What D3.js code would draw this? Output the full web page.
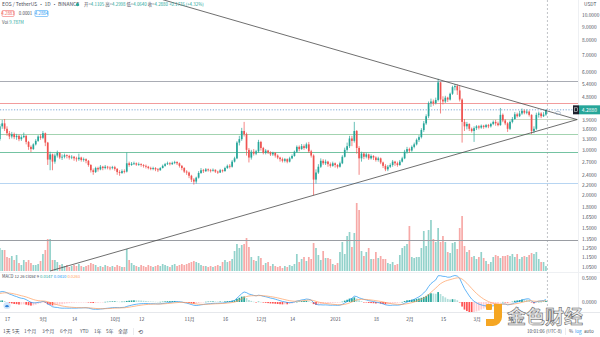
<!DOCTYPE html>
<html><head><meta charset="utf-8">
<script src="https://cdn.jsdelivr.net/npm/d3@7"></script>
<style>body{margin:0;background:#fff}svg{display:block}text{font-family:"Noto Sans CJK SC","Noto Sans",sans-serif}</style>
</head><body><svg id="c" width="600" height="337"></svg>
<script>
// ---- DATA (EOS / USDT daily) ----
const firstDay = "2020-08-14", lastDay = "2021-03-30";
const opens = [
3.30,3.70,3.80,3.62,3.48,3.38,3.45,3.36,3.40,3.30,
3.36,3.40,3.22,3.08,3.02,3.15,3.25,3.38,3.34,3.48,
3.20,2.75,2.88,2.70,2.85,2.92,2.80,2.82,2.86,2.84,
2.80,2.82,2.78,2.76,2.80,2.74,2.76,2.72,2.62,2.50,
2.46,2.55,2.52,2.58,2.55,2.58,2.56,2.55,2.57,2.53,
2.46,2.44,2.48,2.47,2.66,2.62,2.65,2.66,2.63,2.64,
2.62,2.60,2.58,2.55,2.53,2.55,2.52,2.50,2.55,2.60,
2.64,2.66,2.64,2.67,2.69,2.66,2.60,2.55,2.47,2.45,
2.38,2.30,2.26,2.34,2.44,2.50,2.48,2.52,2.50,2.49,
2.51,2.47,2.45,2.50,2.48,2.55,2.60,2.58,2.70,2.78,
3.20,3.30,3.55,3.45,3.00,2.80,2.95,2.90,2.96,3.22,
3.05,2.92,2.98,2.93,2.88,2.92,2.85,2.80,2.76,2.72,
2.76,2.70,2.78,2.84,2.95,3.08,3.02,3.10,3.05,3.15,
2.96,2.85,2.30,2.45,2.58,2.72,2.66,2.70,2.64,2.60,
2.66,2.62,2.58,2.66,2.82,3.00,3.10,3.32,3.25,3.55,
3.05,2.78,2.90,2.82,2.88,2.78,2.84,2.80,2.74,2.78,
2.68,2.60,2.52,2.58,2.62,2.70,2.66,2.62,2.70,2.78,
2.95,3.02,2.98,3.08,3.15,3.28,3.36,3.58,3.80,4.05,
4.55,4.62,4.55,4.68,5.48,4.70,4.62,4.78,4.70,4.95,
5.25,5.30,5.10,4.70,3.85,3.70,3.78,3.62,3.55,3.64,
3.70,3.66,3.72,3.68,3.74,3.70,3.78,3.85,3.80,3.74,
4.10,3.90,3.80,3.62,3.85,3.95,4.12,4.05,4.15,4.25,
4.18,4.22,4.10,3.55,3.62,4.10,4.15,4.05,4.1105];
const highs = [
3.78,3.92,3.95,3.70,3.55,3.52,3.50,3.46,3.44,3.42,
3.50,3.42,3.25,3.12,3.18,3.30,3.42,3.45,3.55,3.50,
3.22,2.95,2.90,2.90,2.98,2.94,2.88,2.90,2.88,2.87,
2.86,2.84,2.82,2.90,2.82,2.80,2.78,2.74,2.64,2.54,
2.58,2.58,2.62,2.60,2.62,2.60,2.59,2.60,2.60,2.55,
2.50,2.52,2.52,2.93,2.70,2.69,2.70,2.68,2.68,2.66,
2.64,2.63,2.60,2.58,2.58,2.57,2.55,2.57,2.63,2.67,
2.70,2.69,2.70,2.72,2.71,2.68,2.62,2.57,2.50,2.47,
2.40,2.33,2.36,2.48,2.55,2.53,2.55,2.54,2.53,2.54,
2.52,2.49,2.53,2.52,2.58,2.63,2.64,2.74,2.82,3.24,
3.40,3.65,3.85,3.50,3.05,3.00,3.02,3.00,3.28,3.25,
3.08,3.02,3.00,2.96,2.95,2.94,2.88,2.82,2.80,2.79,
2.78,2.82,2.88,2.98,3.12,3.12,3.16,3.15,3.20,3.22,
3.00,2.88,2.52,2.64,2.78,2.76,2.75,2.72,2.68,2.70,
2.68,2.64,2.70,2.86,3.06,3.20,3.40,3.40,3.85,3.58,
3.10,2.95,2.94,2.92,2.90,2.88,2.86,2.83,2.82,2.80,
2.70,2.64,2.62,2.66,2.74,2.72,2.70,2.74,2.82,3.00,
3.08,3.06,3.12,3.20,3.32,3.42,3.64,3.88,4.12,4.62,
4.74,4.70,4.78,5.66,5.50,4.84,4.86,4.82,5.00,5.32,
5.40,5.38,5.30,4.75,3.95,3.85,3.80,3.66,3.70,3.74,
3.74,3.76,3.75,3.78,3.78,3.82,3.90,3.92,3.86,4.36,
4.15,3.95,3.84,3.90,4.02,4.20,4.18,4.25,4.34,4.30,
4.30,4.26,4.12,3.70,4.18,4.22,4.20,4.20,4.2998];
const lows = [
3.25,3.62,3.55,3.40,3.30,3.32,3.30,3.28,3.24,3.25,
3.33,3.15,3.00,2.94,3.00,3.12,3.22,3.28,3.30,3.10,
2.62,2.50,2.50,2.65,2.80,2.76,2.74,2.78,2.78,2.75,
2.76,2.72,2.70,2.72,2.70,2.70,2.66,2.58,2.45,2.40,
2.44,2.47,2.50,2.50,2.52,2.52,2.50,2.52,2.49,2.40,
2.38,2.42,2.43,2.45,2.58,2.60,2.62,2.60,2.60,2.58,
2.56,2.54,2.52,2.50,2.50,2.48,2.46,2.49,2.54,2.58,
2.62,2.61,2.62,2.64,2.62,2.56,2.50,2.44,2.40,2.33,
2.25,2.20,2.22,2.32,2.42,2.44,2.46,2.47,2.45,2.47,
2.44,2.42,2.44,2.45,2.47,2.53,2.54,2.56,2.68,2.76,
3.12,3.25,3.38,2.85,2.68,2.75,2.85,2.86,2.92,2.98,
2.88,2.88,2.89,2.84,2.84,2.80,2.76,2.70,2.68,2.68,
2.66,2.68,2.76,2.82,2.92,2.96,3.00,3.00,3.02,2.92,
2.80,2.00,2.22,2.42,2.55,2.62,2.62,2.58,2.56,2.58,
2.56,2.54,2.56,2.64,2.80,2.95,3.05,3.10,3.20,2.90,
2.40,2.70,2.76,2.78,2.74,2.75,2.74,2.70,2.70,2.64,
2.55,2.48,2.48,2.55,2.58,2.60,2.58,2.60,2.68,2.76,
2.90,2.92,2.95,3.04,3.12,3.22,3.32,3.52,3.75,3.98,
4.40,4.45,4.50,4.62,4.15,4.50,4.56,4.60,4.66,4.90,
5.10,4.90,4.62,3.20,3.55,3.60,3.55,3.50,3.22,3.58,
3.60,3.62,3.62,3.64,3.64,3.66,3.74,3.72,3.70,3.72,
3.84,3.74,3.52,3.58,3.80,3.92,4.00,4.02,4.10,4.12,
4.12,4.04,3.45,3.48,3.58,4.00,3.98,4.02,4.064];
const closes = [
3.70,3.80,3.62,3.48,3.38,3.45,3.36,3.40,3.30,3.36,
3.40,3.22,3.08,3.02,3.15,3.25,3.38,3.34,3.48,3.20,
2.75,2.88,2.70,2.85,2.92,2.80,2.82,2.86,2.84,2.80,
2.82,2.78,2.76,2.80,2.74,2.76,2.72,2.62,2.50,2.46,
2.55,2.52,2.58,2.55,2.58,2.56,2.55,2.57,2.53,2.46,
2.44,2.48,2.47,2.66,2.62,2.65,2.66,2.63,2.64,2.62,
2.60,2.58,2.55,2.53,2.55,2.52,2.50,2.55,2.60,2.64,
2.66,2.64,2.67,2.69,2.66,2.60,2.55,2.47,2.45,2.38,
2.30,2.26,2.34,2.44,2.50,2.48,2.52,2.50,2.49,2.51,
2.47,2.45,2.50,2.48,2.55,2.60,2.58,2.70,2.78,3.20,
3.30,3.55,3.45,3.00,2.80,2.95,2.90,2.96,3.22,3.05,
2.92,2.98,2.93,2.88,2.92,2.85,2.80,2.76,2.72,2.76,
2.70,2.78,2.84,2.95,3.08,3.02,3.10,3.05,3.15,2.96,
2.85,2.30,2.45,2.58,2.72,2.66,2.70,2.64,2.60,2.66,
2.62,2.58,2.66,2.82,3.00,3.10,3.32,3.25,3.55,3.05,
2.78,2.90,2.82,2.88,2.78,2.84,2.80,2.74,2.78,2.68,
2.60,2.52,2.58,2.62,2.70,2.66,2.62,2.70,2.78,2.95,
3.02,2.98,3.08,3.15,3.28,3.36,3.58,3.80,4.05,4.55,
4.62,4.55,4.68,5.48,4.70,4.62,4.78,4.70,4.95,5.25,
5.30,5.10,4.70,3.85,3.70,3.78,3.62,3.55,3.64,3.70,
3.66,3.72,3.68,3.74,3.70,3.78,3.85,3.80,3.74,4.10,
3.90,3.80,3.62,3.85,3.95,4.12,4.05,4.15,4.25,4.18,
4.22,4.10,3.55,3.62,4.10,4.15,4.05,4.1105,4.288];
// volume, millions of EOS
const volumes = [
46,42,42,28,26,30,22,32,16,12,
22,18,22,16,12,12,14,20,34,42,
64,64,22,22,18,12,14,10,12,8,
10,12,10,14,10,8,10,12,16,14,
12,8,10,8,12,10,8,10,8,12,
10,8,8,44,22,16,12,10,8,12,
10,8,12,10,8,10,12,10,14,12,
10,8,12,14,10,12,14,12,14,16,
18,20,18,16,12,10,10,8,10,8,
10,12,10,18,22,18,20,24,40,54,
46,52,54,66,48,28,22,20,30,26,
12,16,18,10,14,10,8,10,6,10,
8,12,10,14,34,18,24,28,20,28,
24,56,46,32,22,40,26,26,24,14,
12,16,38,58,34,70,78,48,76,136,
122,40,30,38,46,24,24,38,26,30,
24,24,16,14,18,12,14,32,46,50,
54,90,28,26,28,28,46,80,50,82,
102,64,58,86,58,70,58,38,36,56,
58,44,86,110,50,38,42,28,30,24,
28,38,26,20,14,18,28,32,30,26,
30,30,32,30,34,28,34,24,28,30,
28,32,36,34,38,24,18,18,9.787];
// MACD(12,26,9) EMA states just before the first visible day
const macdSeed = {fast: 3.42, slow: 3.22, signal: 0.17};
// horizontal drawn levels (price) and trend lines
const levelPrices = [5.547, 4.558, 3.951, 3.456, 2.943, 2.231, 1.341];
const levelColors = ["#a9acb4", "#f29c9c", "#cdd6c2", "#a3d3b0", "#74c3a2", "#b7d5f2", "#9a9da3"];
const trendUpper = [["2020-10-21", 11.47], ["2021-04-12", 3.93]];
const trendLower = [["2020-09-04", 1.017], ["2021-04-12", 3.93]];
const lastPrice = 4.2880;
const priceTicks = [10, 9, 8, 7, 6, 5.4, 4.8, 3.9, 3.6, 3.3, 3.0, 2.7, 2.4, 2.2, 2.0, 1.8, 1.65, 1.5, 1.35, 1.25, 1.15, 1.05];
const macdTicks = [0.5, 0];
const timeTicks = ["2020-08-17","2020-09-01","2020-09-14","2020-10-01","2020-10-12","2020-11-01","2020-11-16","2020-12-01","2020-12-14","2021-01-01","2021-01-18","2021-02-01","2021-02-15","2021-03-01","2021-03-15"];
const timeLabels = ["17","9月","14","10月","12","11月","16","12月","14","2021","18","2月","15","3月","15"];

// ---- DRAW ----
const P = s => new Date(s + "T00:00:00Z");
const dates = d3.utcDay.range(P(firstDay), d3.utcDay.offset(P(lastDay), 1));
const N = dates.length;
const idx = d3.range(N);
const svg = d3.select("#c");
const plotR = 578;
const x = d3.scaleUtc().domain([P("2020-08-17"), P("2021-03-15")]).range([7, 510]);
const y = d3.scaleLog().domain([10, 1.05]).range([15, 267.4]);
const yVol = d3.scaleLinear().domain([0, 140]).range([271, 201]);
const yM = d3.scaleLinear().domain([0, 0.5]).range([302, 278]);
const UP = "#26a69a", DN = "#ef5350";

const defs = svg.append("defs");
defs.append("clipPath").attr("id", "cp").append("rect").attr("x", 0).attr("y", 0).attr("width", plotR).attr("height", 272);
defs.append("clipPath").attr("id", "cm").append("rect").attr("x", 0).attr("y", 273).attr("width", plotR).attr("height", 39);

// pane borders
svg.append("line").attr("x1", 0).attr("x2", 600).attr("y1", 272.5).attr("y2", 272.5).attr("stroke", "#eef0f3");
svg.append("line").attr("x1", 0).attr("x2", 600).attr("y1", 312.5).attr("y2", 312.5).attr("stroke", "#e6e8ec");
svg.append("line").attr("x1", plotR + 0.5).attr("x2", plotR + 0.5).attr("y1", 0).attr("y2", 312).attr("stroke", "#eef0f3");

const gP = svg.append("g").attr("clip-path", "url(#cp)");
// volume
const bw = 1.7;
gP.append("g").selectAll("rect").data(idx).join("rect")
  .attr("x", i => x(dates[i]) - bw / 2).attr("width", bw)
  .attr("y", i => yVol(volumes[i])).attr("height", i => yVol(0) - yVol(volumes[i]))
  .attr("fill", i => closes[i] >= opens[i] ? "#93d2cb" : "#f7a9a7");
// levels
gP.append("g").selectAll("line").data(levelPrices).join("line")
  .attr("x1", 0).attr("x2", plotR).attr("y1", d => Math.round(y(d)) + 0.5).attr("y2", d => Math.round(y(d)) + 0.5)
  .attr("stroke", (d, i) => levelColors[i]).attr("stroke-width", 1);
// last price dotted
gP.append("line").attr("x1", 0).attr("x2", plotR).attr("y1", y(lastPrice)).attr("y2", y(lastPrice))
  .attr("stroke", "#7fa9d6").attr("stroke-dasharray", "1.2,1.6").attr("stroke-width", 1);
// candles
const gc = gP.append("g");
gc.selectAll("line").data(idx).join("line")
  .attr("x1", i => x(dates[i])).attr("x2", i => x(dates[i]))
  .attr("y1", i => y(highs[i])).attr("y2", i => y(lows[i]))
  .attr("stroke", i => closes[i] >= opens[i] ? UP : DN).attr("stroke-width", 0.7);
gc.selectAll("rect").data(idx).join("rect")
  .attr("x", i => x(dates[i]) - bw / 2).attr("width", bw)
  .attr("y", i => y(Math.max(opens[i], closes[i])))
  .attr("height", i => Math.max(0.8, y(Math.min(opens[i], closes[i])) - y(Math.max(opens[i], closes[i]))))
  .attr("fill", i => closes[i] >= opens[i] ? UP : DN);
// trend lines
[trendUpper, trendLower].forEach(t => {
  gP.append("line").attr("x1", x(P(t[0][0]))).attr("y1", y(t[0][1])).attr("x2", x(P(t[1][0]))).attr("y2", y(t[1][1]))
    .attr("stroke", "#4a4a4a").attr("stroke-width", 0.8);
});
gP.append("ellipse").attr("cx", x(P("2021-04-04"))).attr("cy", y(4.17)).attr("rx", 2.6).attr("ry", 1.6)
  .attr("fill", "none").attr("stroke", "#8fa6c0").attr("stroke-width", 0.6);

// MACD
let e12 = macdSeed.fast, e26 = macdSeed.slow, sig = macdSeed.signal;
const macd = closes.map(c => { e12 += (2 / 13) * (c - e12); e26 += (2 / 27) * (c - e26); const m = e12 - e26; sig += 0.2 * (m - sig); return { m, s: sig, h: m - sig }; });
const gM = svg.append("g").attr("clip-path", "url(#cm)");
gM.selectAll("rect").data(idx).join("rect")
  .attr("x", i => x(dates[i]) - bw / 2).attr("width", bw)
  .attr("y", i => Math.min(yM(macd[i].h), yM(0))).attr("height", i => Math.max(0.5, Math.abs(yM(macd[i].h) - yM(0))))
  .attr("fill", i => { const h = macd[i].h, p = i ? macd[i - 1].h : h;
    return h >= 0 ? (h >= p ? "#26a69a" : "#b2dfdb") : (h <= p ? "#ff5252" : "#ffcdd2"); });
gM.append("path").datum(idx).attr("fill", "none").attr("stroke", "#2196f3").attr("stroke-width", 0.7)
  .attr("d", d3.line().x(i => x(dates[i])).y(i => yM(macd[i].m)));
gM.append("path").datum(idx).attr("fill", "none").attr("stroke", "#ff9e5e").attr("stroke-width", 0.7)
  .attr("d", d3.line().x(i => x(dates[i])).y(i => yM(macd[i].s)));

// vertical dashed line at the last bar
svg.append("line").attr("x1", x(dates[N - 1]) + 1.5).attr("x2", x(dates[N - 1]) + 1.5).attr("y1", 0).attr("y2", 312)
  .attr("stroke", "#9598a1").attr("stroke-width", 0.6).attr("stroke-dasharray", "2,2");

// watermark (drawn under the axis labels)
const wm = svg.append("g");
wm.append("rect").attr("x", 486).attr("y", 304).attr("width", 6).attr("height", 6).attr("rx", 1).attr("fill", "#f5a623");
wm.append("path").attr("d", "M494,304 h8 v13 a9,9 0 0 1 -9,9 h-7 v-7 h8 z").attr("fill", "#f5a623");
wm.append("text").attr("x", 507).attr("y", 324).attr("font-size", 19).attr("font-weight", "bold")
  .attr("fill", "#e4e4e4").attr("fill-opacity", 0.9).attr("stroke", "#555").attr("stroke-width", 0.5).text("金色财经");

// price axis
const ay = svg.append("g").attr("transform", `translate(582,0)`)
  .call(d3.axisRight(y).tickValues(priceTicks).tickFormat(d3.format(".4f")).tickSize(0).tickPadding(0));
ay.select(".domain").remove();
ay.selectAll("text").attr("font-size", 4.8).attr("fill", "#4a4e59").attr("font-family", "Noto Sans");
svg.append("text").attr("x", 584).attr("y", 5.5).attr("font-size", 4.8).attr("fill", "#4a4e59").text("USDT");
const am = svg.append("g").attr("transform", `translate(582,0)`)
  .call(d3.axisRight(yM).tickValues(macdTicks).tickFormat(d3.format(".4f")).tickSize(0).tickPadding(0));
am.select(".domain").remove();
am.selectAll("text").attr("font-size", 4.8).attr("fill", "#4a4e59");
// last price label
const yl = y(lastPrice);
svg.append("rect").attr("x", 573).attr("y", yl - 4.5).attr("width", 6).attr("height", 9).attr("fill", "#1e222d");
svg.append("rect").attr("x", 574.6).attr("y", yl - 2).attr("width", 2.8).attr("height", 3.6).attr("fill", "none").attr("stroke", "#fff").attr("stroke-width", 0.5);
svg.append("rect").attr("x", 579).attr("y", yl - 4.5).attr("width", 21).attr("height", 9).attr("fill", UP);
svg.append("text").attr("x", 589.5).attr("y", yl + 1.8).attr("text-anchor", "middle").attr("font-size", 5).attr("fill", "#fff").text(lastPrice.toFixed(4));

// time axis
const ax = svg.append("g").attr("transform", "translate(0,319)")
  .call(d3.axisBottom(x).tickValues(timeTicks.map(P)).tickFormat((d, i) => timeLabels[i]).tickSize(0).tickPadding(0));
ax.select(".domain").remove();
ax.selectAll("text").attr("y", 0).attr("dy", "0.35em").attr("font-size", 4.8).attr("fill", "#4a4e59");

// header legend
const hd = svg.append("text").attr("x", 2).attr("y", 6.3).attr("font-size", 5).attr("fill", "#4a4e59");
hd.append("tspan").text("EOS / TetherUS · 1D · BINANCE");
svg.append("circle").attr("cx", 77.5).attr("cy", 4.6).attr("r", 1.6).attr("fill", UP);
const ohlc = svg.append("text").attr("x", 84).attr("y", 6.3).attr("font-size", 4.4);
[["开=", "4.1105 "], ["高=", "4.2998 "], ["低=", "4.0640 "], ["收=", "4.2880 "], ["", "+0.1776 (+4.32%)"]].forEach(p => {
  ohlc.append("tspan").attr("fill", "#4a4e59").text(p[0]);
  ohlc.append("tspan").attr("fill", UP).text(p[1]);
});
svg.append("rect").attr("x", 2).attr("y", 10.5).attr("width", 12).attr("height", 6).attr("rx", 1).attr("fill", "#fff").attr("stroke", "#ef5350").attr("stroke-width", 0.5);
svg.append("text").attr("x", 8).attr("y", 15).attr("text-anchor", "middle").attr("font-size", 4.4).attr("fill", "#ef5350").text("4.2883");
svg.append("text").attr("x", 25.5).attr("y", 15).attr("text-anchor", "middle").attr("font-size", 4.4).attr("fill", "#4a4e59").text("0.0001");
svg.append("rect").attr("x", 35).attr("y", 10.5).attr("width", 13).attr("height", 6).attr("rx", 1).attr("fill", "#fff").attr("stroke", "#2196f3").attr("stroke-width", 0.5);
svg.append("text").attr("x", 41.5).attr("y", 15).attr("text-anchor", "middle").attr("font-size", 4.4).attr("fill", "#2196f3").text("4.2884");
const vt = svg.append("text").attr("x", 2).attr("y", 23.5).attr("font-size", 4.4);
vt.append("tspan").attr("fill", "#4a4e59").text("Vol  ");
vt.append("tspan").attr("fill", UP).text("9.787M");

// MACD legend
const ml = svg.append("text").attr("x", 2).attr("y", 278).attr("font-size", 4.2);
ml.append("tspan").attr("fill", "#4a4e59").text("MACD 12 26 close 9 ");
ml.append("tspan").attr("fill", "#26a69a").text("0.0147 ");
ml.append("tspan").attr("fill", "#2196f3").text("0.0410 ");
ml.append("tspan").attr("fill", "#ff9e5e").text("0.0263");
svg.append("circle").attr("cx", 7).attr("cy", 305.5).attr("r", 3.6).attr("fill", "#cfe5fb");
svg.append("path").attr("d", "M4.8,306.5 q2.2,-2.8 4.4,0 q-2.2,1.6 -4.4,0z").attr("fill", "#2d7fd8");

// bottom toolbar
const tb = ["1天", "5天", "1个月", "3个月", "6个月", "YTD", "1年", "5年", "全部"];
const tbx = [3, 12, 24, 42, 60, 80, 94, 106, 118];
svg.append("g").selectAll("text").data(tb).join("text").attr("x", (d, i) => tbx[i]).attr("y", 333)
  .attr("font-size", 4.8).attr("fill", "#4a4e59").text(d => d);
svg.append("line").attr("x1", 133.5).attr("x2", 133.5).attr("y1", 328).attr("y2", 335).attr("stroke", "#d6d8de").attr("stroke-width", 0.5);
svg.append("text").attr("x", 138).attr("y", 333.5).attr("font-size", 5.5).attr("fill", "#4a4e59").text("⟲");
svg.append("text").attr("x", 527).attr("y", 333).attr("font-size", 4.6).attr("fill", "#4a4e59").text("10:01:06 (UTC-8)");
svg.append("line").attr("x1", 565.5).attr("x2", 565.5).attr("y1", 328).attr("y2", 335).attr("stroke", "#d6d8de").attr("stroke-width", 0.5);
svg.append("text").attr("x", 569).attr("y", 333).attr("font-size", 4.6).attr("fill", "#4a4e59").text("%");
svg.append("text").attr("x", 575).attr("y", 333).attr("font-size", 4.6).attr("fill", "#2196f3").text("log");
svg.append("text").attr("x", 584).attr("y", 333).attr("font-size", 4.6).attr("fill", "#4a4e59").text("auto");
</script></body></html>
